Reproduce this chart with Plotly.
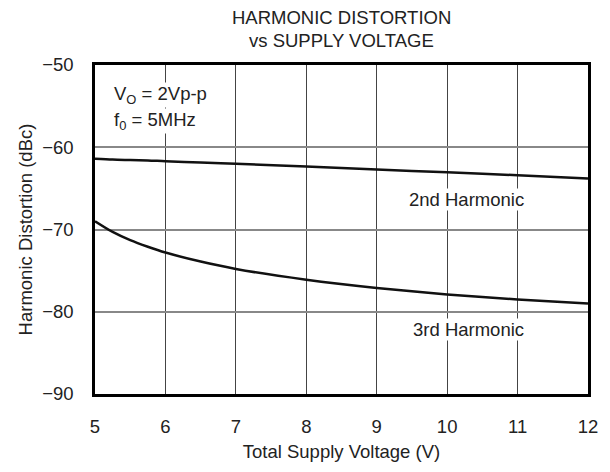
import plotly.graph_objects as go

# Data
supply_v = [5.0, 5.25, 5.5, 5.75, 6.0, 6.5, 7.0, 8.0, 9.0, 10.0, 11.0, 12.0]
h2_dbc = [-61.4, -61.5, -61.55, -61.6, -61.7, -61.85, -62.0, -62.35, -62.7, -63.05, -63.4, -63.8]
h3_dbc = [-69.0, -70.3, -71.3, -72.1, -72.8, -73.9, -74.8, -76.1, -77.1, -77.9, -78.5, -79.0]

x_ticks = [5, 6, 7, 8, 9, 10, 11, 12]
x_ticklabels = ["5", "6", "7", "8", "9", "10", "11", "12"]
y_ticks = [-50, -60, -70, -80, -90]
y_ticklabels = ["\u221250", "\u221260", "\u221270", "\u221280", "\u221290"]
title_lines = ["HARMONIC DISTORTION", "vs SUPPLY VOLTAGE"]

FONT = "Liberation Sans, Arial, sans-serif"
TXT = "#222222"
FS = 18.5

T, B = 65, 73
PH = 472 - T - B

fig = go.Figure()
fig.add_trace(go.Scatter(x=supply_v, y=h2_dbc, mode="lines",
                         line=dict(color="#111111", width=2.5, shape="spline", smoothing=0.8),
                         showlegend=False, hoverinfo="skip"))
fig.add_trace(go.Scatter(x=supply_v, y=h3_dbc, mode="lines",
                         line=dict(color="#111111", width=2.5, shape="spline", smoothing=0.8),
                         showlegend=False, hoverinfo="skip"))

fig.update_layout(
    width=610, height=472,
    margin=dict(l=95, r=18, t=T, b=B),
    paper_bgcolor="white", plot_bgcolor="white",
    font=dict(family=FONT, size=FS, color=TXT),
    xaxis=dict(range=[5, 12], tickvals=x_ticks, ticktext=x_ticklabels,
               showgrid=True, gridcolor="#444444", gridwidth=1,
               showline=True, linecolor="black", linewidth=2.5, mirror=True,
               ticks="", zeroline=False, ticklabelstandoff=14,
               tickfont=dict(size=FS, color=TXT),
               title=dict(text="Total Supply Voltage (V)", font=dict(size=FS, color=TXT), standoff=10)),
    yaxis=dict(range=[-90, -50], tickvals=y_ticks, ticktext=y_ticklabels,
               showgrid=True, gridcolor="#888888", gridwidth=1.5,
               showline=True, linecolor="black", linewidth=2.5, mirror=True,
               ticks="", zeroline=False, ticklabelstandoff=15,
               tickfont=dict(size=FS, color=TXT),
               title=dict(text="Harmonic Distortion (dBc)", font=dict(size=FS, color=TXT), standoff=5)),
)

# two-line chart title, centred over the plot area
for line_txt, ypx in zip(title_lines, [17, 40]):
    fig.add_annotation(xref="paper", yref="paper", x=0.5, y=1 + (T - ypx) / PH,
                       xanchor="center", yanchor="middle", showarrow=False,
                       text=line_txt, font=dict(family=FONT, size=FS, color=TXT))

ann = dict(showarrow=False, font=dict(family=FONT, size=FS, color=TXT), bgcolor="white", borderpad=0)
fig.add_annotation(x=5.25, y=-53.7, xanchor="left", text="V<sub>O</sub> = 2Vp-p", **ann)
fig.add_annotation(x=5.25, y=-56.8, xanchor="left", text="f<sub>0</sub> = 5MHz", **ann)
fig.add_annotation(x=10.27, y=-66.3, xanchor="center", text="2nd Harmonic", **ann)
fig.add_annotation(x=10.3, y=-82.1, xanchor="center", text="3rd Harmonic", **ann)

fig.write_html("out.html", config={"displayModeBar": False},
               post_script="document.body.style.margin='0';")
